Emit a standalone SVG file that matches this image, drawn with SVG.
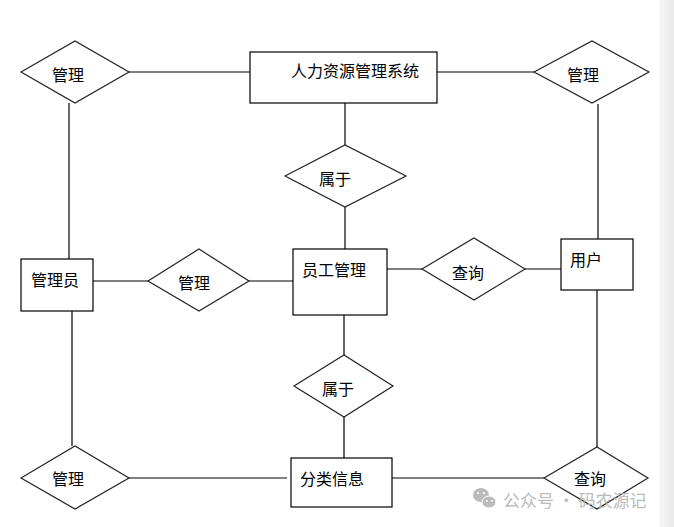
<svg xmlns="http://www.w3.org/2000/svg" width="674" height="527" viewBox="0 0 674 527">
<defs>
<style>
.ent{fill:#fff;stroke:#000;stroke-width:1.2}
.rel{fill:#fff;stroke:#222;stroke-width:1.2}
.lbl{font-family:"Noto Sans CJK SC","Liberation Sans",sans-serif;font-size:16px;fill:#000}
#connectors line{stroke:#000;stroke-width:1.2}
.wm{font-family:"Noto Sans CJK SC","Liberation Sans",sans-serif;font-size:17px;fill:#b4b4b4}
</style>
<linearGradient id="strip" x1="0" y1="0" x2="1" y2="0">
<stop offset="0" stop-color="#f6f6f6"/>
<stop offset="1" stop-color="#e9e9e9"/>
</linearGradient>
</defs>
<rect x="0" y="0" width="674" height="527" fill="#fff"/>
<rect x="659" y="0" width="15" height="527" fill="url(#strip)"/>
<g id="connectors">
<line x1="129" y1="72" x2="250" y2="72"/>
<line x1="437" y1="72" x2="534" y2="72"/>
<line x1="69" y1="103" x2="69" y2="259"/>
<line x1="598" y1="104" x2="598" y2="239"/>
<line x1="345" y1="103" x2="345" y2="145"/>
<line x1="345" y1="207" x2="345" y2="249"/>
<line x1="93" y1="281" x2="148" y2="281"/>
<line x1="249" y1="281" x2="293" y2="281"/>
<line x1="387" y1="269" x2="422" y2="269"/>
<line x1="525" y1="269" x2="561" y2="269"/>
<line x1="344" y1="315" x2="344" y2="355"/>
<line x1="344" y1="417" x2="344" y2="458"/>
<line x1="72" y1="311" x2="72" y2="446"/>
<line x1="597" y1="290" x2="597" y2="447"/>
<line x1="129" y1="478" x2="287" y2="478"/>
<line x1="392" y1="478" x2="544" y2="478"/>
</g>
<g id="hr-system"><rect class="ent" x="250" y="52" width="187" height="51"/><text class="lbl" x="291" y="77">人力资源管理系统</text></g>
<g id="manage-tl"><polygon class="rel" points="21,72 75,41 129,72 75,103"/><text class="lbl" x="52" y="81">管理</text></g>
<g id="manage-tr"><polygon class="rel" points="534,72 592,41 649,72 592,103"/><text class="lbl" x="567" y="81">管理</text></g>
<g id="belong-top"><polygon class="rel" points="285,176 345,145 406,176 345,207"/><text class="lbl" x="319" y="185">属于</text></g>
<g id="admin"><rect class="ent" x="21" y="259" width="72" height="52"/><text class="lbl" x="31" y="286">管理员</text></g>
<g id="manage-mid"><polygon class="rel" points="148,281 199,249 249,281 199,311"/><text class="lbl" x="178" y="289">管理</text></g>
<g id="employee"><rect class="ent" x="293" y="249" width="94" height="66"/><text class="lbl" x="302" y="276">员工管理</text></g>
<g id="query-mid"><polygon class="rel" points="422,269 474,238 525,269 474,300"/><text class="lbl" x="452" y="279">查询</text></g>
<g id="user"><rect class="ent" x="561" y="239" width="72" height="51"/><text class="lbl" x="570" y="266">用户</text></g>
<g id="belong-bottom"><polygon class="rel" points="294,386 344,355 393,386 344,417"/><text class="lbl" x="322" y="395">属于</text></g>
<g id="manage-bl"><polygon class="rel" points="21,478 75,446 129,478 75,509"/><text class="lbl" x="52" y="485">管理</text></g>
<g id="category"><rect class="ent" x="291" y="458" width="101" height="49"/><text class="lbl" x="300" y="485">分类信息</text></g>
<g id="query-br"><polygon class="rel" points="544,478 597,447 648,478 597,509"/><text class="lbl" x="574" y="485">查询</text></g>
<g id="watermark" opacity="0.9">
<ellipse cx="481" cy="495" rx="8" ry="7" fill="#b4b4b4"/>
<ellipse cx="489" cy="502" rx="7" ry="6" fill="#b4b4b4" stroke="#fff" stroke-width="1"/>
<circle cx="478" cy="493" r="1.1" fill="#fff"/>
<circle cx="484" cy="493" r="1.1" fill="#fff"/>
<circle cx="487" cy="501" r="1" fill="#fff"/>
<circle cx="492" cy="501" r="1" fill="#fff"/>
<text class="wm" x="503" y="507">公众号 · 码农源记</text>
</g>
</svg>
